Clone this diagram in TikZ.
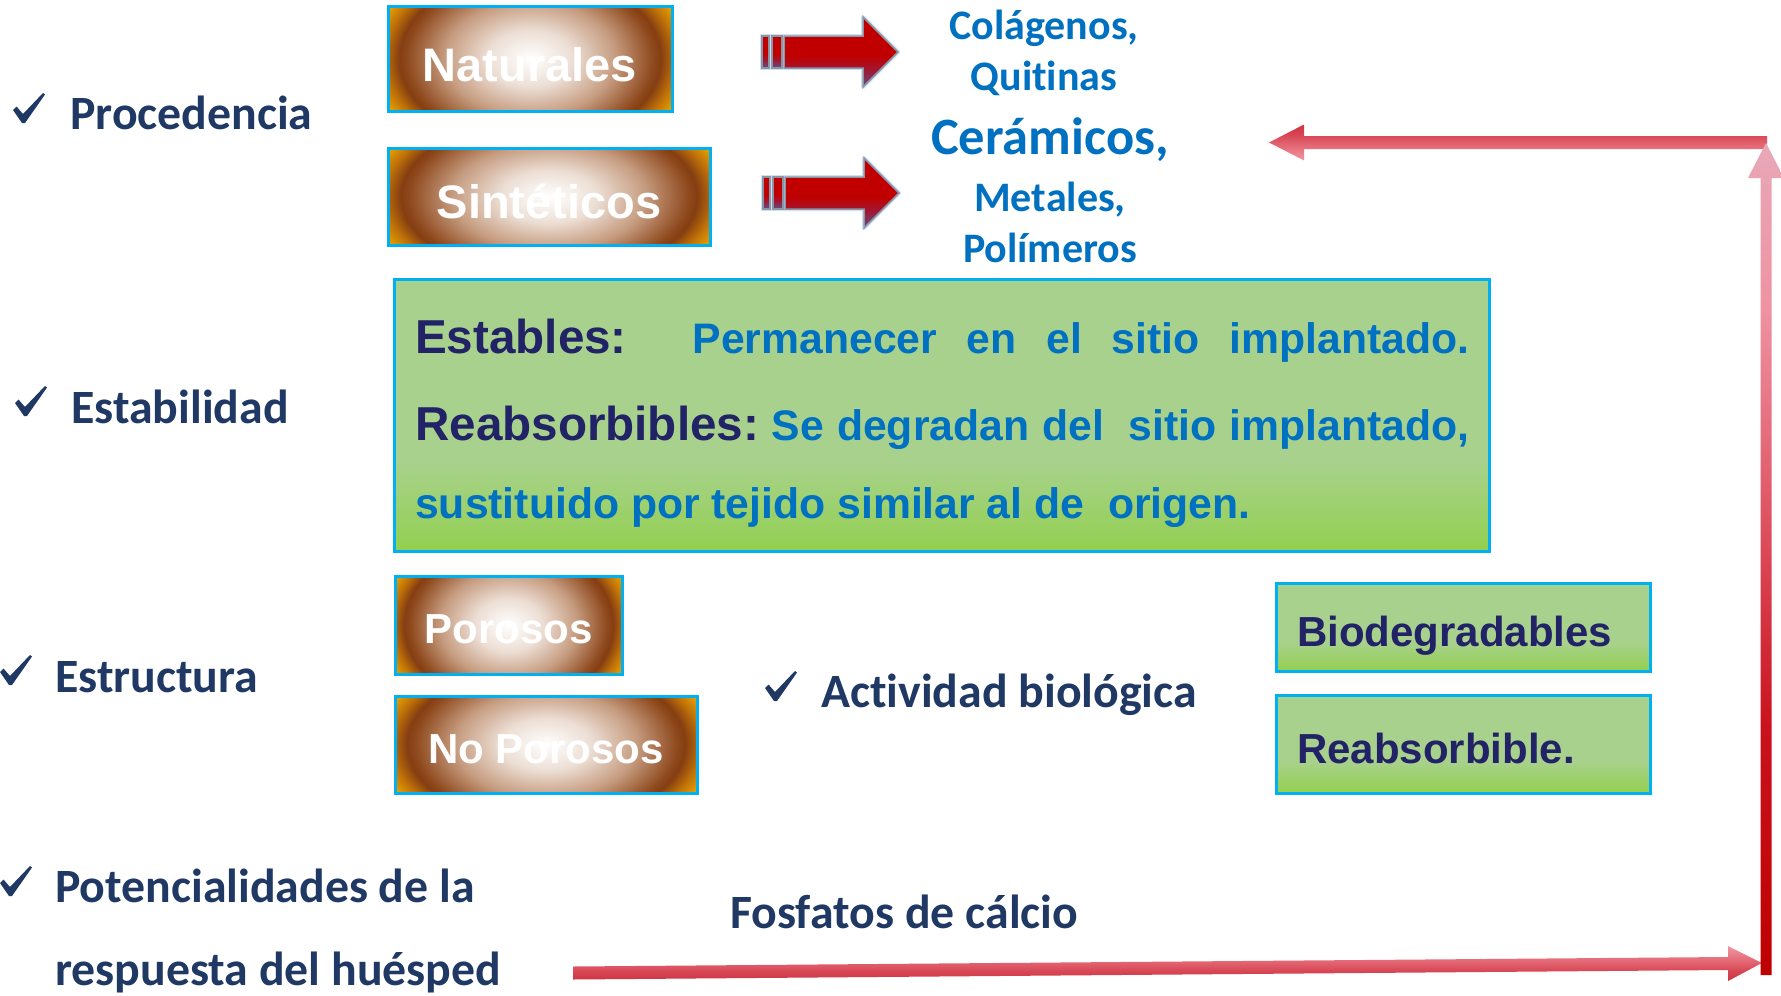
\documentclass[tikz,border=0pt]{standalone}
\usepackage{fontspec}
\setmainfont{Carlito}[Ligatures=NoCommon]
\newfontfamily\arialfont{Liberation Sans}
\usetikzlibrary{calc}
\definecolor{navy}{RGB}{31,56,100}
\definecolor{boxtext}{RGB}{34,34,102}
\definecolor{ltblue}{RGB}{0,112,192}
\definecolor{cyanb}{RGB}{0,176,240}
\definecolor{gA}{RGB}{169,209,142}
\definecolor{gB}{RGB}{146,208,80}
\definecolor{bg1}{RGB}{236,222,212}
\definecolor{bg2}{RGB}{198,156,128}
\definecolor{bg3}{RGB}{142,72,28}
\definecolor{bg4}{RGB}{132,62,18}
\definecolor{bg5}{RGB}{190,112,8}
\definecolor{bg6}{RGB}{236,172,0}
\definecolor{ar1}{RGB}{92,82,132}
\definecolor{ar2}{RGB}{160,24,52}
\definecolor{ar3}{RGB}{192,0,0}
\definecolor{glowc}{RGB}{210,225,242}
\definecolor{arrgray}{RGB}{138,150,166}
\definecolor{pk1}{RGB}{205,50,66}
\definecolor{pk2}{RGB}{216,72,86}
\definecolor{pk3}{RGB}{232,118,130}
\definecolor{pk4}{RGB}{240,152,164}
\definecolor{vr1}{RGB}{190,0,0}
\definecolor{vr2}{RGB}{202,18,30}
\definecolor{vr3}{RGB}{226,96,112}
\definecolor{vr4}{RGB}{239,146,162}
\definecolor{vr5}{RGB}{232,168,184}
\pgfdeclareradialshading{brownglow}{\pgfpoint{0bp}{0bp}}{color(0bp)=(white); color(7.5bp)=(bg1); color(15bp)=(bg2); color(21.75bp)=(bg3); color(23bp)=(bg4); color(25.5bp)=(bg5); color(28.75bp)=(bg6); color(50bp)=(bg6)}
\pgfdeclareverticalshading{greenfill}{100bp}{color(0bp)=(gB); color(25bp)=(gB); color(42bp)=(gA); color(100bp)=(gA)}
\pgfdeclareverticalshading{redarrsh}{100bp}{color(0bp)=(ar1); color(25bp)=(ar1); color(37bp)=(ar2); color(47bp)=(ar3); color(100bp)=(ar3)}
\pgfdeclareverticalshading{pinkbot}{100bp}{color(0bp)=(pk1); color(25bp)=(pk1); color(40bp)=(pk2); color(60bp)=(pk3); color(75bp)=(pk4); color(100bp)=(pk4)}
\pgfdeclareverticalshading{pinktop}{100bp}{color(0bp)=(pk4); color(25bp)=(pk4); color(40bp)=(pk3); color(60bp)=(pk2); color(75bp)=(pk1); color(100bp)=(pk1)}
\pgfdeclareverticalshading{redvert}{100bp}{color(0bp)=(vr1); color(25bp)=(vr1); color(40bp)=(vr2); color(55bp)=(vr3); color(65bp)=(vr4); color(75bp)=(vr5); color(100bp)=(vr5)}
\tikzset{
  brownbox/.style={draw=cyanb, line width=3pt, inner sep=0pt, text=white,
    font=\arialfont\bfseries\fontsize{47}{50}\selectfont, text depth=0pt,
    path picture={\shade[shading=brownglow] ($(path picture bounding box.west)!1.8!(path picture bounding box.south west)$) rectangle ($(path picture bounding box.east)!1.8!(path picture bounding box.north east)$);}},
  greenbox/.style={draw=cyanb, line width=3pt, inner sep=0pt, shade, shading=greenfill},
  greentext/.style={font=\arialfont\bfseries\fontsize{42}{46}\selectfont, text=boxtext, align=left, text depth=0pt},
  lbl/.style={font=\bfseries\fontsize{47.8}{50}\selectfont, text=navy, inner sep=0pt, anchor=base west},
  bluet/.style={font=\bfseries\fontsize{42}{46}\selectfont, text=ltblue, inner sep=0pt, anchor=base},
  parat/.style={font=\arialfont\bfseries\fontsize{42.7}{46}\selectfont, text=ltblue, inner sep=0pt, anchor=base west},
  chk/.pic={\fill[navy] (0,17) -- (3.5,13.5) -- (10,21) -- (30,0) -- (32,1.5) -- (12,30) -- (9,30) -- cycle;},
  redarr/.pic={
    \draw[glowc, line width=4pt] (0,-16) rectangle (7,16) (10,-16) rectangle (20,16);
    \draw[glowc, line width=4pt, line join=round] (22,-16) -- (101,-16) -- (101,-35) -- (136,0) -- (101,35) -- (101,16) -- (22,16) -- cycle;
    \shade[shading=redarrsh, draw=arrgray, line width=1.5pt] (0,-16) rectangle (7,16);
    \shade[shading=redarrsh, draw=arrgray, line width=1.5pt] (10,-16) rectangle (20,16);
    \shade[shading=redarrsh, draw=arrgray, line width=1.5pt, line join=miter] (22,-16) -- (101,-16) -- (101,-35) -- (136,0) -- (101,35) -- (101,16) -- (22,16) -- cycle;
  },
}
\newcommand{\darkfont}{\color{boxtext}\fontsize{47.6}{50}\selectfont}
\begin{document}
\begin{tikzpicture}[x=1pt, y=-1pt]
\useasboundingbox (0,0) rectangle (1781,996);
\fill[white] (0,0) rectangle (1781,996);

% left labels
\pic at (13,93) {chk};
\node[lbl] (proc) at (70,129) {Procedencia};
\pic at (15,386) {chk};
\node[lbl] (estb) at (71,423) {Estabilidad};
\pic at (0,655) {chk};
\node[lbl] (estr) at (55,692) {Estructura};
\pic at (0,866) {chk};
\node[lbl] (pot1) at (55,902) {Potencialidades de la};
\node[lbl] (pot2) at (55,985) {respuesta del huésped};
\pic at (765,671) {chk};
\node[lbl] (act) at (821,707) {Actividad biológica};
\node[lbl] (fos) at (730,928) {Fosfatos de cálcio};

% brown boxes
\node[brownbox, minimum width=284, minimum height=105, text height=45pt] (nat) at (530,58.5) {Naturales};
\node[brownbox, minimum width=322, minimum height=97, text height=43pt] (sin) at (549,196.5) {Sintéticos};
\node[brownbox, font=\arialfont\bfseries\fontsize{42}{46}\selectfont, minimum width=227, minimum height=98, text height=36pt] (por) at (508.5,625) {Porosos};
\node[brownbox, font=\arialfont\bfseries\fontsize{42}{46}\selectfont, minimum width=302, minimum height=97, text height=37pt] (npor) at (546,744.5) {No Porosos};

% red block arrows
\pic at (762,52) {redarr};
\pic at (763,193) {redarr};

% blue texts
\node[bluet] (col) at (1044,39) {Colágenos,};
\node[bluet] (qui) at (1044,90) {Quitinas};
\node[bluet, font=\bfseries\fontsize{52.5}{56}\selectfont] (cer) at (1050,154) {Cerámicos,};
\node[bluet] (met) at (1050,211) {Metales,};
\node[bluet] (pol) at (1050,262) {Polímeros};

% big green box
\node[greenbox, minimum width=1095, minimum height=272] (stab) at (941.5,415) {};
\node[parat] (l1) at (415,353) {\makebox[1054pt][l]{{\darkfont Estables:}\hspace{36pt}\hfill Permanecer\hfill en\hfill el\hfill sitio\hfill implantado.}};
\node[parat] (l2) at (415,440) {\makebox[1054pt][l]{{\darkfont Reabsorbibles:}\hfill Se\hfill degradan\hfill del\hspace{12pt}\hfill sitio\hfill implantado,}};
\node[parat] (l3) at (415,518) {sustituido por tejido similar al de\ \ origen.};

% small green boxes
\node[greenbox, greentext, minimum width=374, minimum height=88, text width=332pt, text height=38pt] (bio) at (1463,627) {Biodegradables};
\node[greenbox, greentext, minimum width=374, minimum height=98, text width=332pt, text height=38pt] (rea) at (1463,744) {Reabsorbible.};

% feedback arrows
\coordinate (hs) at (573,973);
\coordinate (hb) at (1728,963.5);
\coordinate (he) at (1762,963);
\coordinate (vb) at (1766,975);
\coordinate (vh) at (1766,178);
\coordinate (vt) at (1766,143);
\coordinate (ts) at (1767,142.5);
\coordinate (th) at (1304,142.5);
\coordinate (tt) at (1269,142.5);
\shade[shading=pinkbot] ($(hs)+(0,-6.5)$) -- ($(hb)+(0,-6.5)$) -- ($(hb)+(0,-17.5)$) -- (he) -- ($(hb)+(0,17.5)$) -- ($(hb)+(0,6.5)$) -- ($(hs)+(0,6.5)$) -- cycle;
\shade[shading=pinktop] ($(ts)+(0,-6.5)$) -- ($(th)+(0,-6.5)$) -- ($(th)+(0,-18)$) -- (tt) -- ($(th)+(0,18)$) -- ($(th)+(0,6.5)$) -- ($(ts)+(0,6.5)$) -- cycle;
\shade[shading=redvert] ($(vb)+(-5.5,0)$) -- ($(vh)+(-5.5,0)$) -- ($(vh)+(-18,0)$) -- (vt) -- ($(vh)+(18,0)$) -- ($(vh)+(5.5,0)$) -- ($(vb)+(5.5,0)$) -- cycle;
\end{tikzpicture}
\end{document}
